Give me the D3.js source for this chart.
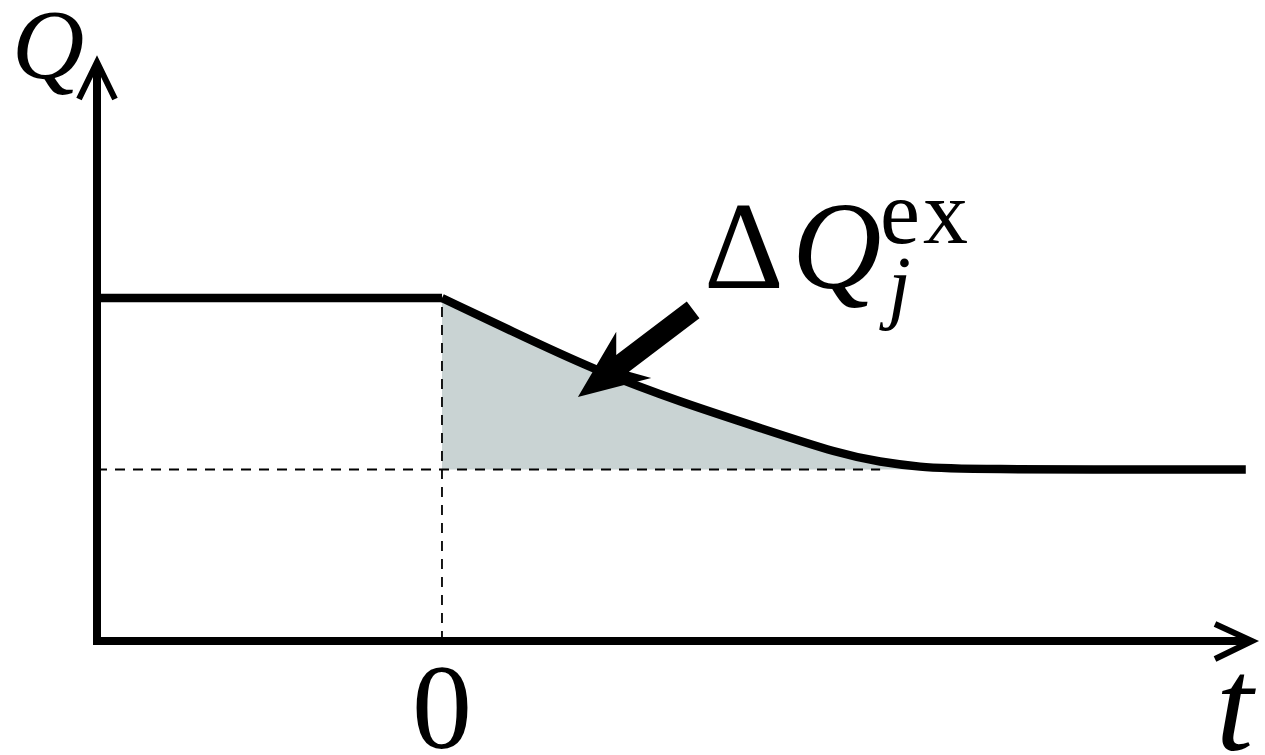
<!DOCTYPE html>
<html>
<head>
<meta charset="utf-8">
<script src="https://cdn.jsdelivr.net/npm/d3@7"></script>
<style>
  body { margin: 0; background: #fff; }
  svg { display: block; }
  .lbl { font-family: "Liberation Serif", "DejaVu Serif", serif; fill: #000; }
</style>
</head>
<body>
<svg id="chart"></svg>
<script>
// time (t) and level (Q) of the response curve
const flatT = [-1, 0];
const flatQ = [1, 1];
const curveT = [0, 0.255, 0.458, 0.69, 0.922, 1.154, 1.27, 1.386, 1.5, 2.33];
const curveQ = [1, 0.878, 0.784, 0.697, 0.621, 0.545, 0.522, 0.507, 0.5, 0.5];
const baseQ = 0.5;          // final level (dashed reference)
const dashEndT = 1.27;
const fillEndT = 1.5;
// annotation arrow from tail to tip, in data units
const arrowTail = [0.728, 0.965];
const arrowTip = [0.394, 0.711];

const width = 1265, height = 755;
const svg = d3.select('#chart').attr('width', width).attr('height', height);

const x = d3.scaleLinear().domain([-1, 2.348]).range([97, 1252]);
const y = d3.scaleLinear().domain([0, 1.688]).range([641, 62]);

const curvePts = curveT.map((t, i) => ({t, q: curveQ[i]}));
const flatPts = flatT.map((t, i) => ({t, q: flatQ[i]}));

// shaded area between curve and final level
const area = d3.area()
    .x(d => x(d.t))
    .y0(y(baseQ))
    .y1(d => y(d.q))
    .curve(d3.curveBasis);
svg.append('path')
    .datum(curvePts.filter(d => d.t <= fillEndT))
    .attr('d', area)
    .attr('fill', '#c9d3d3');

// dashed guides
svg.append('line')
    .attr('x1', x(0)).attr('x2', x(0))
    .attr('y1', y(0)).attr('y2', y(1))
    .attr('stroke', '#000').attr('stroke-width', 1.8)
    .attr('stroke-dasharray', '10,8');
svg.append('line')
    .attr('x1', x(-1)).attr('x2', x(dashEndT))
    .attr('y1', y(baseQ)).attr('y2', y(baseQ))
    .attr('stroke', '#000').attr('stroke-width', 1.8)
    .attr('stroke-dasharray', '10,8');

// axes with open arrow heads
const axisStroke = 8;
svg.append('path')
    .attr('d', `M${x(-1) - 4},${y(0)}L${x(2.348) - 4},${y(0)}`)
    .attr('stroke', '#000').attr('stroke-width', axisStroke).attr('fill', 'none');
svg.append('path')
    .attr('d', `M${x(-1)},${y(0)}L${x(-1)},${y(1.688) + 4}`)
    .attr('stroke', '#000').attr('stroke-width', axisStroke).attr('fill', 'none');
svg.append('path')
    .attr('d', `M${x(2.348) - 37},${y(0) - 17}L${x(2.348)},${y(0)}L${x(2.348) - 37},${y(0) + 18}`)
    .attr('stroke', '#000').attr('stroke-width', 6).attr('fill', 'none')
    .attr('stroke-linejoin', 'miter');
svg.append('path')
    .attr('d', `M${x(-1) - 18},${y(1.688) + 37}L${x(-1)},${y(1.688)}L${x(-1) + 18},${y(1.688) + 37}`)
    .attr('stroke', '#000').attr('stroke-width', 6).attr('fill', 'none')
    .attr('stroke-linejoin', 'miter');

// response curve
const line = d3.line().x(d => x(d.t)).y(d => y(d.q));
svg.append('path')
    .datum(flatPts)
    .attr('d', line)
    .attr('fill', 'none').attr('stroke', '#000').attr('stroke-width', 8.5);
svg.append('path')
    .datum(curvePts)
    .attr('d', line.curve(d3.curveBasis))
    .attr('fill', 'none').attr('stroke', '#000').attr('stroke-width', 8.5)
    .attr('stroke-linejoin', 'round');

// thick annotation arrow
const tl = [x(arrowTail[0]), y(arrowTail[1])];
const tp = [x(arrowTip[0]), y(arrowTip[1])];
const len = Math.hypot(tp[0] - tl[0], tp[1] - tl[1]);
const u = [(tp[0] - tl[0]) / len, (tp[1] - tl[1]) / len];
const n = [-u[1], u[0]];
const at = (back, side) => [tp[0] - u[0] * back + n[0] * side, tp[1] - u[1] * back + n[1] * side];
const arrowPts = [
  at(0, 0), at(70, 29), at(56, 10.5), at(len, 10.5),
  at(len, -10.5), at(56, -10.5), at(70, -29)
];
svg.append('polygon')
    .attr('points', arrowPts.map(p => p.join(',')).join(' '))
    .attr('fill', '#000');

// labels
svg.append('text').attr('class', 'lbl')
    .attr('x', 12).attr('y', 78)
    .attr('font-size', 100).attr('font-style', 'italic')
    .text('Q');
svg.append('text').attr('class', 'lbl')
    .attr('x', x(0)).attr('y', 748)
    .attr('text-anchor', 'middle')
    .attr('font-size', 120)
    .text('0');
svg.append('text').attr('class', 'lbl')
    .attr('x', 1216).attr('y', 750)
    .attr('font-size', 134).attr('font-style', 'italic')
    .text('t');
svg.append('text').attr('class', 'lbl')
    .attr('x', 704).attr('y', 288)
    .attr('font-size', 124)
    .text('Δ');
svg.append('text').attr('class', 'lbl')
    .attr('x', 792).attr('y', 288)
    .attr('font-size', 124).attr('font-style', 'italic')
    .text('Q');
svg.append('text').attr('class', 'lbl')
    .attr('x', 880).attr('y', 243)
    .attr('font-size', 90).attr('letter-spacing', 3)
    .text('ex');
svg.append('text').attr('class', 'lbl')
    .attr('x', 888).attr('y', 313)
    .attr('font-size', 82).attr('font-style', 'italic')
    .text('j');
</script>
</body>
</html>
